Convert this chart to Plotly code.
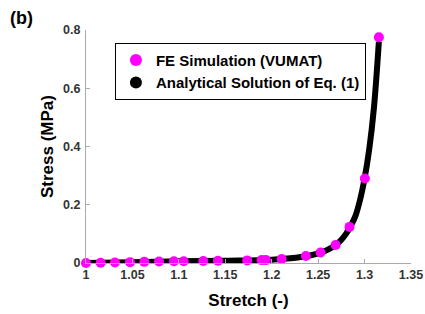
import plotly.graph_objects as go

# FE simulation points
fe_stretch = [1.0, 1.0158, 1.0312, 1.0474, 1.0628, 1.0786, 1.0947, 1.1052, 1.1263, 1.1421,
              1.1736, 1.1891, 1.1938, 1.2107, 1.2368, 1.2526, 1.2688, 1.2838, 1.3003, 1.3154]
fe_stress = [0.0, 0.001, 0.002, 0.003, 0.004, 0.005, 0.006, 0.006, 0.007, 0.008,
             0.009, 0.010, 0.010, 0.014, 0.024, 0.036, 0.062, 0.124, 0.29, 0.775]

# Analytical solution curve
an_stretch = [1.0, 1.05, 1.1, 1.15, 1.2, 1.22, 1.24, 1.25, 1.26, 1.27, 1.275, 1.28,
              1.285, 1.29, 1.295, 1.30, 1.305, 1.31, 1.3154]
an_stress = [0.0, 0.003, 0.006, 0.008, 0.011, 0.016, 0.025, 0.033, 0.045, 0.065, 0.08, 0.10,
             0.127, 0.16, 0.215, 0.29, 0.39, 0.53, 0.76]

x_ticks = [1, 1.05, 1.1, 1.15, 1.2, 1.25, 1.3, 1.35]
x_tick_labels = ["1", "1.05", "1.1", "1.15", "1.2", "1.25", "1.3", "1.35"]
y_ticks = [0, 0.2, 0.4, 0.6, 0.8]
y_tick_labels = ["0", "0.2", "0.4", "0.6", "0.8"]

FONT = "Liberation Sans, Arial, sans-serif"

ML, MT, MR, MB = 86, 30, 14, 51
PW, PH = 325, 233

fig = go.Figure()
fig.add_trace(go.Scatter(x=an_stretch, y=an_stress, mode="lines",
                         line=dict(color="black", width=6, shape="spline"),
                         showlegend=False, cliponaxis=False))
fig.add_trace(go.Scatter(x=fe_stretch, y=fe_stress, mode="markers",
                         marker=dict(color="#ff00ff", size=10),
                         name="<b>FE Simulation (VUMAT)</b>", cliponaxis=False))
fig.add_trace(go.Scatter(x=[None], y=[None], mode="markers",
                         marker=dict(color="black", size=10),
                         name="<b>Analytical Solution of Eq. (1)</b>"))

fig.update_layout(
    width=ML + PW + MR, height=MT + PH + MB,
    margin=dict(l=ML, r=MR, t=MT, b=MB),
    paper_bgcolor="white", plot_bgcolor="white",
    font=dict(family=FONT, color="#333"),
    legend=dict(x=0.089, y=0.945, xanchor="left", yanchor="top",
                bgcolor="white", bordercolor="black", borderwidth=1,
                font=dict(size=15, color="black", family=FONT),
                itemsizing="constant", tracegroupgap=0),
    annotations=[
        dict(text="<b>(b)</b>", x=-(ML - 8) / PW, y=1 + (MT - 6) / PH,
             xref="paper", yref="paper",
             xanchor="left", yanchor="top", showarrow=False,
             font=dict(size=18, color="black", family=FONT))],
)

fig.update_xaxes(range=[1, 1.35], tickvals=x_ticks, automargin=False,
                 ticktext=["<b>" + t + "</b>" for t in x_tick_labels],
                 showgrid=False, zeroline=False, showline=True, linecolor="#aaa",
                 linewidth=1, ticks="inside", ticklen=4, tickcolor="#aaa",
                 tickfont=dict(size=12.5, color="#333"),
                 title=dict(text="<b>Stretch (-)</b>", font=dict(size=17, color="black"), standoff=13))
fig.update_yaxes(range=[0, 0.8], tickvals=y_ticks, automargin=False,
                 ticktext=["<b>" + t + "</b>" for t in y_tick_labels],
                 showgrid=False, zeroline=False, showline=True, linecolor="#aaa",
                 linewidth=1, ticks="inside", ticklen=4, tickcolor="#aaa",
                 ticklabelstandoff=2,
                 tickfont=dict(size=12.5, color="#333"),
                 title=dict(text="<b>Stress (MPa)</b>", font=dict(size=17, color="black"), standoff=5))

fig.write_html("out.html", config={"displayModeBar": False},
               post_script="document.body.style.margin='0';document.body.style.overflow='hidden';")
